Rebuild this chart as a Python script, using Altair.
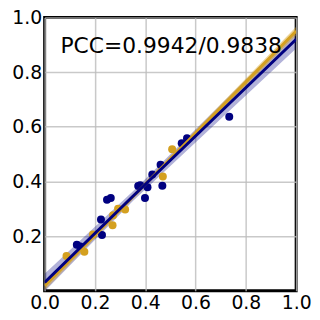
import altair as alt
import pandas as pd

# navy series (observed points)
navy_x = [0.128, 0.142, 0.224, 0.228, 0.248, 0.263, 0.372, 0.380, 0.409, 0.399, 0.428, 0.468, 0.461, 0.545, 0.566, 0.734]
navy_y = [0.168, 0.162, 0.261, 0.204, 0.333, 0.339, 0.383, 0.386, 0.379, 0.339, 0.425, 0.384, 0.461, 0.540, 0.558, 0.637]
# goldenrod series
gold_x = [0.087, 0.158, 0.192, 0.270, 0.272, 0.292, 0.320, 0.470, 0.507]
gold_y = [0.127, 0.143, 0.206, 0.240, 0.276, 0.300, 0.297, 0.418, 0.518]

# fitted lines and bands
fit_x = [0.0, 0.35, 1.0]
navy_fit = [0.030, 0.345, 0.920]
navy_half = [0.032, 0.018, 0.034]
gold_fit = [0.018, 0.343, 0.950]
gold_half = [0.016, 0.008, 0.016]

pcc_text = "PCC=0.9942/0.9838"

NAVY = "#000080"
GOLD = "#D4A020"

pts = pd.DataFrame({
    "x": navy_x + gold_x,
    "y": navy_y + gold_y,
    "s": ["navy"] * len(navy_x) + ["gold"] * len(gold_x),
})
fits = pd.DataFrame({
    "x": fit_x * 2,
    "y": navy_fit + gold_fit,
    "lo": [f - h for f, h in zip(navy_fit, navy_half)] + [f - h for f, h in zip(gold_fit, gold_half)],
    "hi": [f + h for f, h in zip(navy_fit, navy_half)] + [f + h for f, h in zip(gold_fit, gold_half)],
    "s": ["navy"] * 3 + ["gold"] * 3,
})

xs = alt.Scale(domain=[0, 1], nice=False, zero=False)
ys = alt.Scale(domain=[0, 1], nice=False, zero=False)
xax = alt.Axis(values=[0, 0.2, 0.4, 0.6, 0.8, 1.0], format=".1f", title=None,
               labelPadding=3, labelFlush=False, labelOverlap=False)
yax = alt.Axis(values=[0.2, 0.4, 0.6, 0.8, 1.0], format=".1f", title=None,
               labelPadding=3, labelFlush=False, labelOverlap=False)
cs = alt.Scale(domain=["navy", "gold"], range=[NAVY, GOLD])

base_f = alt.Chart(fits)
band_navy = base_f.transform_filter("datum.s == 'navy'").mark_area(color=NAVY, opacity=0.3, clip=True).encode(
    x=alt.X("x:Q", scale=xs, axis=xax), y=alt.Y("lo:Q", scale=ys, axis=yax), y2="hi:Q")
band_gold = base_f.transform_filter("datum.s == 'gold'").mark_area(color=GOLD, opacity=0.45, clip=True).encode(
    x=alt.X("x:Q", scale=xs), y=alt.Y("lo:Q", scale=ys), y2="hi:Q")
line_gold = base_f.transform_filter("datum.s == 'gold'").mark_line(color=GOLD, strokeWidth=3, clip=True).encode(
    x=alt.X("x:Q", scale=xs), y=alt.Y("y:Q", scale=ys))
line_navy = base_f.transform_filter("datum.s == 'navy'").mark_line(color=NAVY, strokeWidth=3, clip=True).encode(
    x=alt.X("x:Q", scale=xs), y=alt.Y("y:Q", scale=ys))
points = alt.Chart(pts).mark_circle(size=65, opacity=1).encode(
    x=alt.X("x:Q", scale=xs), y=alt.Y("y:Q", scale=ys),
    color=alt.Color("s:N", scale=cs, legend=None))
txt = alt.Chart(pd.DataFrame({"x": [0.063], "y": [0.896], "t": [pcc_text]})).mark_text(
    align="left", baseline="middle", fontSize=22, font="DejaVu Sans", color="black").encode(
    x=alt.X("x:Q", scale=xs), y=alt.Y("y:Q", scale=ys), text="t:N")

chart = alt.layer(band_navy, band_gold, points, line_gold, line_navy, txt).properties(
    width=254, height=276,
    autosize=alt.AutoSizeParams(type="none"),
    padding={"left": 37, "top": 8, "right": 16, "bottom": 26},
).configure_axis(
    labelFont="DejaVu Sans", labelFontSize=19, labelColor="black",
    grid=True, gridColor="#bbbbbb", gridWidth=1.5, gridOpacity=0.8,
    domain=False, ticks=False,
).configure_view(stroke="black", strokeWidth=3)

chart.save("out.html", embed_options={"renderer": "svg", "actions": False})
